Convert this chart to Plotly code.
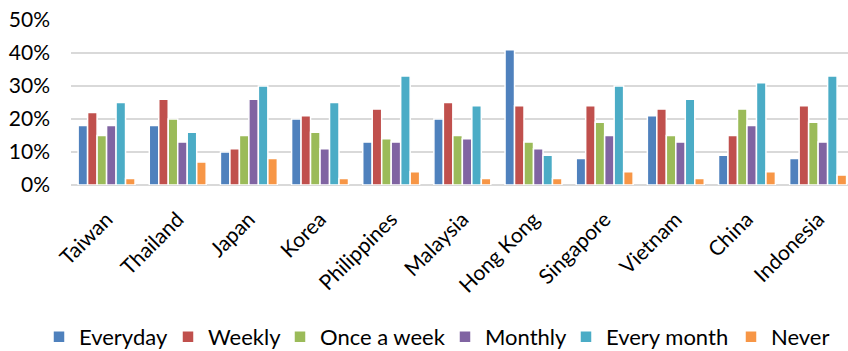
import plotly.graph_objects as go

countries = ["Taiwan", "Thailand", "Japan", "Korea", "Philippines", "Malaysia",
             "Hong Kong", "Singapore", "Vietnam", "China", "Indonesia"]

series_names = ["Everyday", "Weekly", "Once a week", "Monthly", "Every month", "Never"]

everyday    = [18, 18, 10, 20, 13, 20, 41, 8, 21, 9, 8]
weekly      = [22, 26, 11, 21, 23, 25, 24, 24, 23, 15, 24]
once_a_week = [15, 20, 15, 16, 14, 15, 13, 19, 15, 23, 19]
monthly     = [18, 13, 26, 11, 13, 14, 11, 15, 13, 18, 13]
every_month = [25, 16, 30, 25, 33, 24, 9, 30, 26, 31, 33]
never       = [2, 7, 8, 2, 4, 2, 2, 4, 2, 4, 3]

y_ticks = [0, 10, 20, 30, 40, 50]

series_values = [everyday, weekly, once_a_week, monthly, every_month, never]
colors = ["#4F81BD", "#C0504D", "#9BBB59", "#8064A2", "#4BACC6", "#F79646"]

# left edge (px, container) of each legend entry, one legend per series
legend_left_px = [39, 168, 280, 445, 566, 731]

FONT = "Lato, Liberation Sans, sans-serif"
W, H = 848, 351

fig = go.Figure()
legend_layout = {}
for i, (name, vals, col) in enumerate(zip(series_names, series_values, colors)):
    lid = "legend" if i == 0 else f"legend{i + 1}"
    fig.add_trace(go.Bar(
        x=countries, y=vals, name=name, legend=lid,
        marker=dict(color=col, line=dict(color="white", width=1.5)),
    ))
    legend_layout[lid] = dict(
        orientation="h", xref="container", yref="container",
        x=legend_left_px[i] / W, xanchor="left",
        y=14 / H, yanchor="middle",
        font=dict(family=FONT, size=22, color="#000000"),
        itemclick=False, bgcolor="rgba(0,0,0,0)", borderwidth=0,
    )

fig.update_layout(
    width=W, height=H,
    margin=dict(l=71, r=0, t=20, b=166),
    paper_bgcolor="white", plot_bgcolor="white",
    barmode="group", bargap=0.2, bargroupgap=0,
    font=dict(family=FONT, size=21, color="#000000"),
    showlegend=True,
    **legend_layout,
)

fig.update_xaxes(
    type="category", range=[-0.5, 10.42],
    tickangle=-45, showgrid=False, showline=False, zeroline=False,
    ticks="", ticklabelstandoff=17,
    tickfont=dict(family=FONT, size=21, color="#000000"),
)
fig.update_yaxes(
    range=[0, 50], tickvals=y_ticks, ticktext=[f"{v}%" for v in y_ticks],
    showgrid=True, gridcolor="#D9D9D9", gridwidth=2,
    zeroline=True, zerolinecolor="#D9D9D9", zerolinewidth=2,
    showline=False, ticks="", ticklabelstandoff=20,
    tickfont=dict(family=FONT, size=21, color="#000000"),
)

fig.write_html("out.html")
